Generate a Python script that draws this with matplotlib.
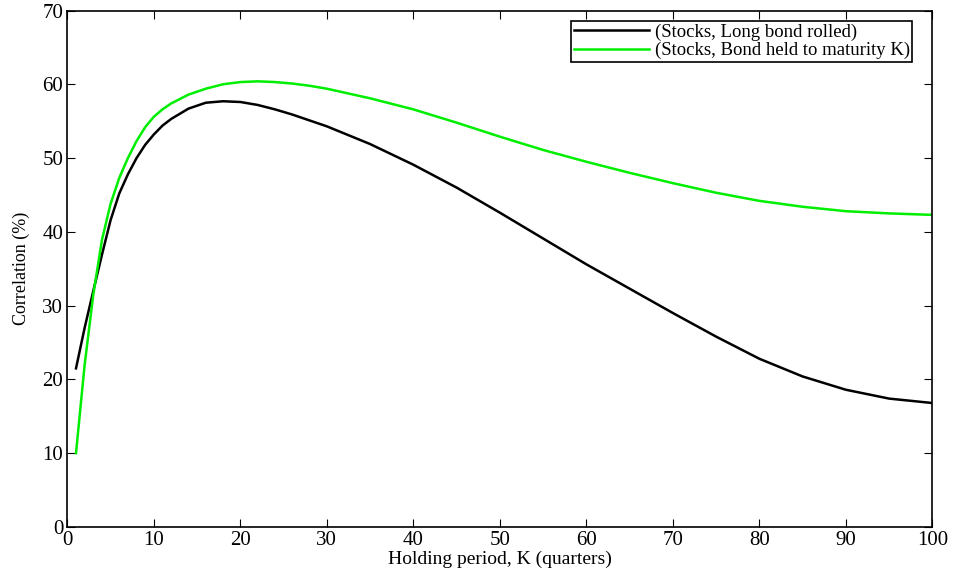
import matplotlib
matplotlib.use("Agg")
import matplotlib.pyplot as plt
from matplotlib.ticker import MultipleLocator

K = [1, 2, 3, 4, 5, 6, 7, 8, 9, 10, 11, 12, 14, 16, 18, 20, 22, 24, 26, 28, 30,
     35, 40, 45, 50, 55, 60, 65, 70, 75, 80, 85, 90, 95, 100]
rolled = [21.5, 27.0, 32.0, 36.9, 41.6, 45.2, 47.8, 50.0, 51.8, 53.2, 54.4, 55.3,
          56.7, 57.5, 57.7, 57.6, 57.2, 56.6, 55.9, 55.1, 54.3,
          51.9, 49.1, 46.0, 42.6, 39.1, 35.6, 32.3, 29.0, 25.8, 22.8, 20.4, 18.6,
          17.4, 16.8]
held = [10.0, 22.0, 31.5, 38.9, 43.8, 47.3, 50.0, 52.3, 54.2, 55.6, 56.6, 57.4,
        58.6, 59.4, 60.0, 60.3, 60.4, 60.3, 60.1, 59.8, 59.4,
        58.1, 56.6, 54.8, 52.9, 51.1, 49.5, 48.0, 46.6, 45.3, 44.2, 43.4, 42.8,
        42.5, 42.3]

labels = ["(Stocks, Long bond rolled)", "(Stocks, Bond held to maturity K)"]

plt.rcParams['font.family'] = ['Liberation Serif', 'DejaVu Serif']
fig = plt.figure(figsize=(9.54, 5.77), dpi=100)
ax = fig.add_axes([0.0706, 0.0867, 0.9067, 0.8951])
ax.plot(K, rolled, color='black', lw=1.8, label=labels[0])
ax.plot(K, held, color='#00ee00', lw=1.8, label=labels[1])
ax.set_xlim(0, 100)
ax.set_ylim(0, 70)
ax.xaxis.set_major_locator(MultipleLocator(10))
ax.yaxis.set_major_locator(MultipleLocator(10))
ax.tick_params(direction='in', top=True, right=True, length=6, width=0.8,
               labelsize=15, pad=3)
ax.tick_params(axis='x', pad=3)
for s in ax.spines.values():
    s.set_linewidth(1.2)
ax.set_xlabel("Holding period, K (quarters)", fontsize=14, labelpad=0.5)
ax.set_ylabel("Correlation (%)", fontsize=13, labelpad=9)
leg = ax.legend(loc='upper right', bbox_to_anchor=(0.977, 0.98), borderaxespad=0,
                fontsize=13.5, frameon=True, fancybox=False, edgecolor='black',
                framealpha=1, handlelength=4.0, borderpad=0.15, labelspacing=0.05,
                handletextpad=0.3)
leg.get_frame().set_linewidth(1.2)
fig.savefig("out.png", dpi=100)
